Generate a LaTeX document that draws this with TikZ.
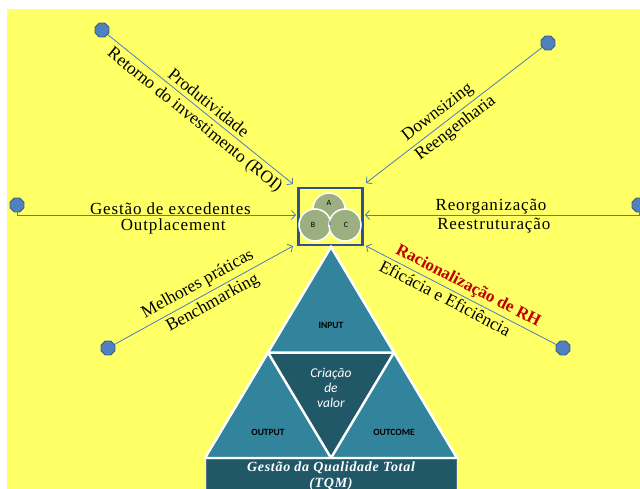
\documentclass[tikz,border=0pt]{standalone}
\usepackage{fontspec}
\setmainfont{Liberation Serif}
\newfontfamily\calibri{Carlito}
\newfontfamily\spaced[LetterSpace=5]{Liberation Serif}
\usetikzlibrary{arrows.meta,shapes.geometric,positioning}
\definecolor{bgyellow}{HTML}{FFFF66}
\definecolor{linkblue}{HTML}{4A7EBB}
\definecolor{dotblue}{HTML}{4F81BD}
\definecolor{dotedge}{HTML}{385D8A}
\definecolor{hubblue}{HTML}{2F528F}
\definecolor{trifill}{HTML}{31849B}
\definecolor{trideep}{HTML}{215868}
\definecolor{rectedge}{HTML}{4F6F94}
\definecolor{circfill}{HTML}{9BAF80}
\definecolor{rhred}{HTML}{C00000}
\tikzset{
  dot/.style={regular polygon,regular polygon sides=8,minimum size=15pt,inner sep=0pt,
    fill=dotblue,draw=dotedge,line width=.8pt},
  link/.style={linkblue,line width=.8pt,-{Straight Barb[length=4pt,width=9pt]}},
  lbl/.style={text=black,font=\fontsize{17.5}{19}\selectfont,inner sep=1pt},
  hlbl/.style={text=black,font=\spaced\fontsize{17}{19}\selectfont,inner sep=1pt},
  trilbl/.style={font=\calibri\bfseries\fontsize{9.5}{10}\selectfont},
  circlbl/.style={font=\calibri\fontsize{8}{9}\selectfont,inner sep=0pt}
}

\begin{document}
\begin{tikzpicture}[x=1pt,y=-1pt]
\useasboundingbox (0,0) rectangle (640,489);
\fill[white] (0,0) rectangle (640,489);
\fill[bgyellow] (7,9) rectangle (640,489);

% outer points
\node[dot] (ptl) at (102,30) {};
\node[dot] (ptr) at (548,43) {};
\node[dot] (pl) at (17,205) {};
\node[dot] (pr) at (639,205) {};
\node[dot] (pbl) at (108,348) {};
\node[dot] (pbr) at (563,348) {};

% central box
\node[draw=hubblue,line width=2.5pt,minimum width=64pt,minimum height=57pt] (hub) at (330.5,216.5) {};
\coordinate (etl) at (293,184);
\coordinate (etr) at (366,183);
\coordinate (el) at (296,215);
\coordinate (er) at (365,215);
\coordinate (ebl) at (293,246);
\coordinate (ebr) at (366,246);

\filldraw[fill=circfill,draw=white,line width=1.5pt] (329,209) circle[radius=16pt];
\filldraw[fill=circfill,draw=white,line width=1.5pt] (315,225) circle[radius=16pt];
\filldraw[fill=circfill,draw=white,line width=1.5pt] (345,225) circle[radius=16pt];
\begin{scope}
  \clip (329,209) circle[radius=16pt];
  \clip (315,225) circle[radius=16pt];
  \fill[dotblue,opacity=.7] (345,225) circle[radius=16pt];
\end{scope}
\node[circlbl] (ca) at (329,203) {A};
\node[circlbl] (cb) at (313,225) {B};
\node[circlbl] (cc) at (346,225) {C};

% connectors
\draw[link] (ptl) -- node[lbl,sloped,above=3pt,pos=.51]{Produtividade}
  node[lbl,sloped,below=3pt,pos=.51]{Retorno do investimento (ROI)} (etl);
\draw[link] (ptr) -- node[lbl,sloped,above=3pt,pos=.55]{Downsizing}
  node[lbl,sloped,below=2pt,pos=.53]{Reengenharia} (etr);
\draw[link] (pl.south) |- node[hlbl,above=-1pt,pos=.775]{Gestão de excedentes}
  node[hlbl,below=2pt,pos=.78]{Outplacement} (el);
\draw[link] (pr.south) |- node[hlbl,above=-1pt,pos=.77]{Reorganização}
  node[hlbl,below=2pt,pos=.765]{Reestruturação} (er);
\draw[link] (pbl) -- node[lbl,sloped,above=3pt,pos=.5]{Melhores práticas}
  node[lbl,sloped,below=2pt,pos=.52]{Benchmarking} (ebl);
\draw[link] (pbr) -- node[lbl,sloped,above=2pt,pos=.49,text=rhred,font=\bfseries\fontsize{17}{19}\selectfont]{Racionalização de RH}
  node[lbl,sloped,below=2pt,pos=.56]{Eficácia e Eficiência} (ebr);

% pyramid
\filldraw[fill=trifill,draw=white,line width=2.5pt] (331,247) -- (205,458) -- (457,458) -- cycle;
\filldraw[fill=trideep,draw=white,line width=2.5pt] (268,352.5) -- (394,352.5) -- (331,458) -- cycle;
\filldraw[fill=trideep,draw=rectedge,line width=1pt] (206,459) rectangle (456,495);

\node[trilbl] (input) at (331,325) {INPUT};
\node[trilbl] (output) at (268,432) {OUTPUT};
\node[trilbl] (outcome) at (394,432) {OUTCOME};
\node[white,align=center,font=\calibri\itshape\fontsize{13.5}{15}\selectfont] (valor) at (331,388) {Criação\\de\\valor};
\node[white,align=center,font=\spaced\bfseries\itshape\fontsize{14}{16}\selectfont] (tqm) at (331,476) {Gestão da Qualidade Total\\(TQM)};
\end{tikzpicture}
\end{document}
